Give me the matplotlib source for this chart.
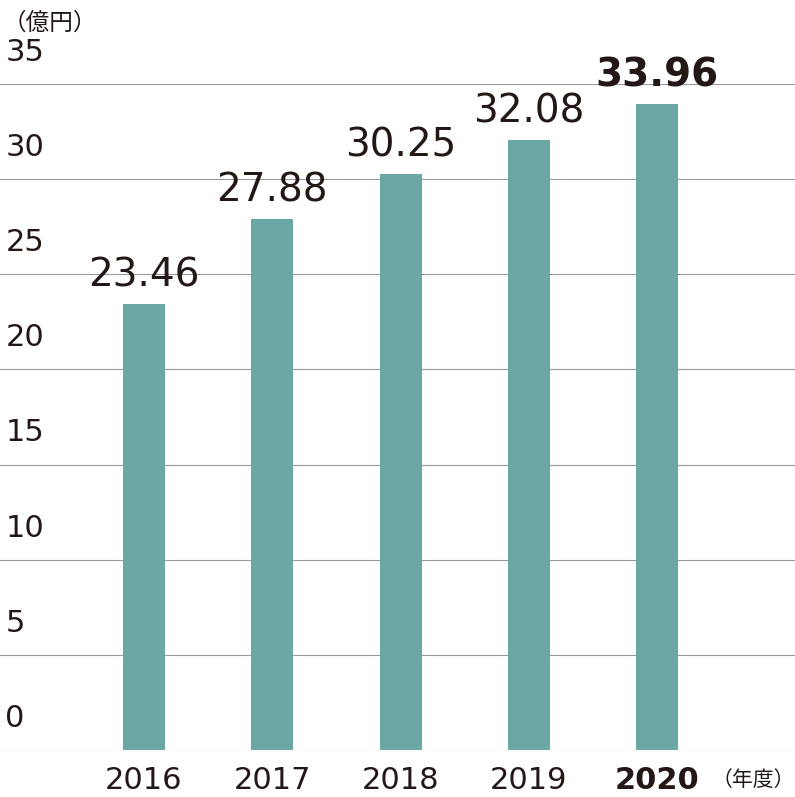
import matplotlib
matplotlib.use('Agg')
import matplotlib.pyplot as plt

years = ['2016', '2017', '2018', '2019', '2020']
values = [23.46, 27.88, 30.25, 32.08, 33.96]
yticks = [0, 5, 10, 15, 20, 25, 30, 35]

FONT = 'Noto Sans CJK JP'
plt.rcParams['font.family'] = FONT

fig = plt.figure(figsize=(7.95, 7.97), dpi=100)
ax = fig.add_axes([0, 47 / 797, 1, 666 / 797])
x = list(range(len(years)))
ax.bar(x, values, width=0.327, color='#6ba7a5', zorder=2)
ax.set_xlim(-1.122, 5.074)
ax.set_ylim(0, 35)
for v in yticks:
    ax.axhline(v, color='#9a9a9a', linewidth=0.8, zorder=1)
    ax.text(-1.08, v + 0.9, str(v), fontsize=22, color='#231815',
            ha='left', va='bottom', fontfamily='DejaVu Sans')
for i, v in enumerate(values):
    last = i == len(values) - 1
    ax.text(i, v + 0.5, f'{v:.2f}', fontsize=28, ha='center', va='bottom',
            color='#231815', fontweight='bold' if last else 'normal',
            fontfamily='DejaVu Sans', clip_on=False)
    ax.text(i, -1.6, years[i], fontsize=22, ha='center', va='center',
            color='#231815', fontweight='bold' if last else 'normal',
            fontfamily='DejaVu Sans', clip_on=False)
ax.text(4.75, -1.6, '（年度）', fontsize=15, ha='center', va='center', color='#231815', clip_on=False)
ax.text(-1.1, 38.2, '（億円）', fontsize=17, ha='left', va='center', color='#231815', clip_on=False)
ax.axis('off')
fig.savefig('out.png', dpi=100)
